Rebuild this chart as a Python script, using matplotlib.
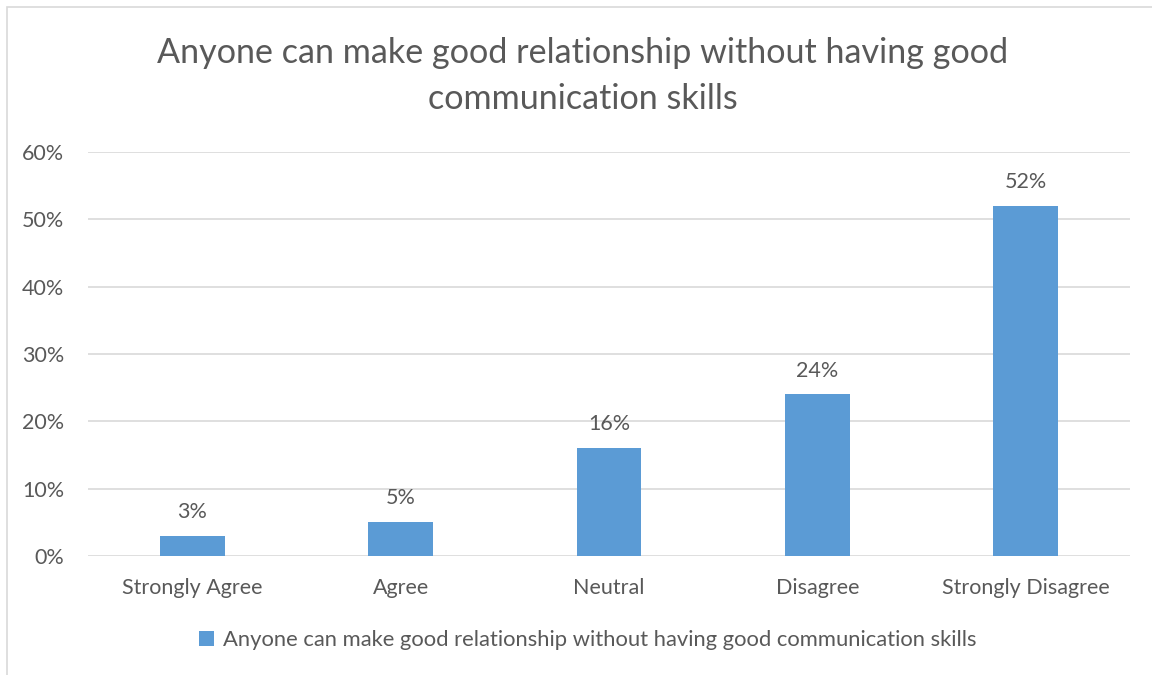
import matplotlib.pyplot as plt
from matplotlib.patches import Rectangle
from matplotlib.ticker import PercentFormatter

categories = ["Strongly Agree", "Agree", "Neutral", "Disagree", "Strongly Disagree"]
values = [3, 5, 16, 24, 52]
series_name = "Anyone can make good relationship without having good communication skills"
title = "Anyone can make good relationship without having good\ncommunication skills"

bar_color = "#5b9bd5"
text_color = "#595959"
grid_color = "#d9d9d9"

plt.rcParams["font.family"] = ["Lato", "DejaVu Sans"]

fig = plt.figure(figsize=(11.52, 6.75), dpi=100)
# outer chart border
fig.patches.append(Rectangle((7 / 1152, -0.01), 1.02, 1 - 7 / 675 + 0.01,
                             transform=fig.transFigure, fill=False,
                             edgecolor=grid_color, linewidth=1.2))

ax = fig.add_axes([88 / 1152, 1 - 556 / 675, (1130 - 88) / 1152, (556 - 152) / 675])
x = range(len(categories))
bars = ax.bar(x, values, width=0.31, color=bar_color, label=series_name, zorder=3)
for b, v in zip(bars, values):
    ax.annotate(f"{v}%", (b.get_x() + b.get_width() / 2, v), xytext=(0, 10),
                textcoords="offset points", ha="center", va="bottom",
                fontsize=15.5, color=text_color)

ax.set_xlim(-0.5, len(categories) - 0.5)
ax.set_ylim(0, 60)
ax.set_yticks(range(0, 61, 10))
ax.yaxis.set_major_formatter(PercentFormatter(decimals=0))
ax.set_xticks(list(x))
ax.set_xticklabels(categories)
ax.grid(axis="y", color=grid_color, linewidth=1.2, zorder=0)
for s in ax.spines.values():
    s.set_visible(False)
ax.tick_params(length=0, labelsize=15.5, labelcolor=text_color)
ax.tick_params(axis="x", pad=16)
ax.tick_params(axis="y", pad=17)

fig.text(0.506, 1 - 76 / 675, title, ha="center", va="center",
         fontsize=24.6, color=text_color, linespacing=1.55)

fig.legend(handles=[bars], labels=[series_name], loc="center",
           bbox_to_anchor=(0.51, 1 - 640 / 675), frameon=False, fontsize=15.8,
           labelcolor=text_color, handlelength=0.7, handleheight=0.7,
           handletextpad=0.4)

fig.savefig("out.png", dpi=100, facecolor="white")
